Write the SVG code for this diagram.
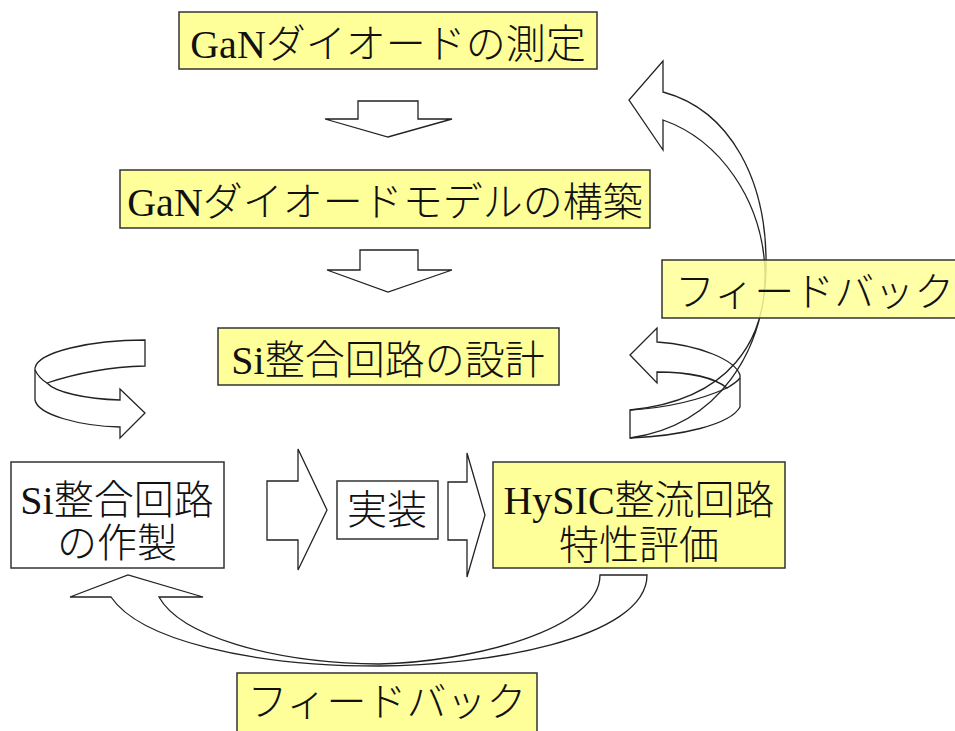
<svg xmlns="http://www.w3.org/2000/svg" width="955" height="731" viewBox="0 0 955 731">
<style>
.box{fill:#FFFF99;stroke:#333;stroke-width:1.5}
.wbox{fill:#fff;stroke:#333;stroke-width:1.5}
.fb{fill:#FFFF99;fill-opacity:0.85;stroke:#333;stroke-width:1.5}
.arr{fill:#fff;stroke:#222;stroke-width:1.3;stroke-linejoin:miter}
.arrn{fill:none;stroke:#222;stroke-width:1.3}
text{font-family:"Liberation Serif","Noto Sans CJK JP",serif;font-size:40px;font-weight:300;fill:#111}
.c{text-anchor:middle}
</style>
<rect width="955" height="731" fill="#fff"/>
<g id="connectors">
<path class="arr" d="M358 101 L418 101 L418 119 L452 119 L388 137 L325 119 L358 119 Z"/>
<path class="arr" d="M360 250 L418 250 L418 270 L452 270 L388 292 L327 270 L360 270 Z"/>
<path class="arr" d="M267 481 L298 481 L298 449 L327 510 L298 570 L298 540 L267 540 Z"/>
<path class="arr" d="M448 482 L467 482 L467 453 L485 515 L467 577 L467 540 L448 540 Z"/>
<path class="arr" d="M145 340 C90 340 38 352 35 368 L35 400 C38 415 80 426 120 427 L120 438 L145 413 L120 389 L120 400 C85 399 55 392 47 383 C80 372 110 367 145 366 Z"/>
<path class="arrn" d="M35 370 C38 376 42 380 47 383"/>
<path class="arrn" d="M663 92 C730 110 768 180 766 270 C764 350 720 425 630 438 L630 410 C730 400 767 340 765 270 C762 200 720 140 663 120 L663 150 L629 100 L663 61 Z"/>
<path class="arrn" d="M630 438 C680 436 730 425 740 407 L740 375 C735 360 700 345 657 342 L657 328 L630 355 L657 383 L657 372 C690 372 715 378 727 388 C700 400 665 408 630 410"/>
<path class="arrn" d="M740 378 C737 382 732 385 727 388"/>
<path class="arr" d="M111 597 L70 597 L128 575 L203 597 L159 597 C180 635 270 663 379 664 C470 662 600 630 600 575 L647 575 C647 640 480 666 379 666 C250 666 140 640 111 597 Z"/>
</g>
<g id="n1"><rect class="box" x="179" y="12" width="418" height="57"/><text class="c" x="388" y="58">GaNダイオードの測定</text></g>
<g id="n2"><rect class="box" x="120" y="170" width="530" height="58"/><text class="c" x="385" y="216">GaNダイオードモデルの構築</text></g>
<g id="n3"><rect class="box" x="218" y="328" width="341" height="57"/><text class="c" x="388" y="374">Si整合回路の設計</text></g>
<g id="n4"><rect class="wbox" x="11" y="462" width="213" height="106"/><text class="c" x="117" y="514">Si整合回路</text><text class="c" x="117" y="557">の作製</text></g>
<g id="n5"><rect class="wbox" x="337" y="481" width="101" height="58"/><text class="c" x="387" y="524">実装</text></g>
<g id="n6"><rect class="box" x="493" y="462" width="292" height="106"/><text class="c" x="639" y="514">HySIC整流回路</text><text class="c" x="639" y="559">特性評価</text></g>
<g id="n7"><rect class="fb" x="662" y="260" width="300" height="58"/><text x="675" y="306">フィードバック</text></g>
<g id="n8"><rect class="box" x="237" y="673" width="300" height="70"/><text class="c" x="387" y="716">フィードバック</text></g>
</svg>
